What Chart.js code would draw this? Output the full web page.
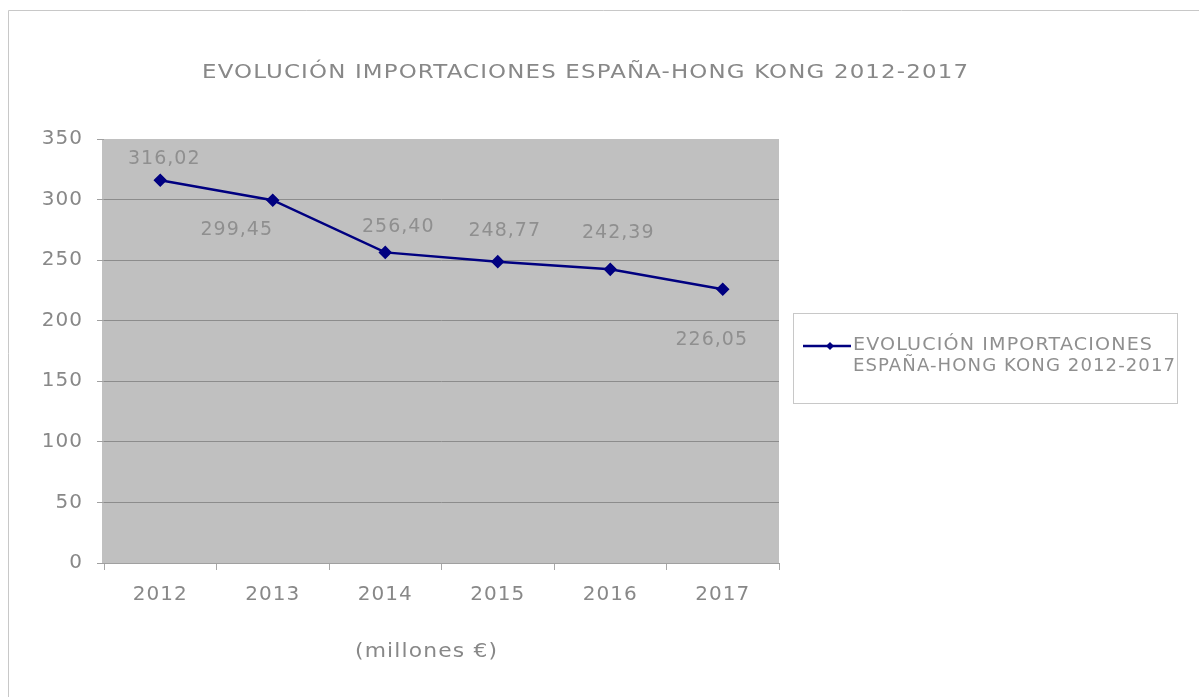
<!DOCTYPE html>
<html>
<head>
<meta charset="utf-8">
<script src="https://cdn.jsdelivr.net/npm/chart.js@4"></script>
<style>
  html, body { margin: 0; padding: 0; background: #fff; }
  #wrap { width: 1199px; height: 697px; }
</style>
</head>
<body>
<div id="wrap"><canvas id="importChart" width="1199" height="697"></canvas></div>
<script>
// data
const years = ['2012', '2013', '2014', '2015', '2016', '2017'];
const imports = [316.02, 299.45, 256.40, 248.77, 242.39, 226.05];
const importLabels = ['316,02', '299,45', '256,40', '248,77', '242,39', '226,05'];
const yTicks = [0, 50, 100, 150, 200, 250, 300, 350];
const titleText = 'EVOLUCIÓN IMPORTACIONES ESPAÑA-HONG KONG 2012-2017';
const legendLines = ['EVOLUCIÓN IMPORTACIONES', 'ESPAÑA-HONG KONG 2012-2017'];
const axisTitle = '(millones €)';

const FONT = "'DejaVu Sans', sans-serif";
const GREY_TEXT = '#888888';
const LINE_COLOR = '#000080';
const GRID = '#8c8c8c';

// text squeezed/stretched horizontally so it spans a given width (the original font is wider)
function stretchText(ctx, text, x, y, width, align) {
  ctx.letterSpacing = '1px';
  const w = ctx.measureText(text).width - 1;
  const k = width / w;
  const sx = align === 'center' ? x - width / 2 : x;
  ctx.save();
  ctx.translate(sx, y);
  ctx.scale(k, 1);
  ctx.textAlign = 'left';
  ctx.fillText(text, 0, 0);
  ctx.restore();
}

const decorPlugin = {
  id: 'decor',
  beforeDraw(chart) {
    const { ctx, chartArea: a } = chart;
    ctx.save();
    ctx.fillStyle = '#fff';
    ctx.fillRect(0, 0, chart.width, chart.height);
    // outer frame (only left and top edges are in view)
    ctx.strokeStyle = '#c8c8c8';
    ctx.lineWidth = 1;
    ctx.beginPath();
    ctx.moveTo(8.5, chart.height);
    ctx.lineTo(8.5, 10.5);
    ctx.lineTo(chart.width, 10.5);
    ctx.stroke();
    // plot background
    ctx.fillStyle = '#c0c0c0';
    ctx.fillRect(a.left - 2, a.top, a.right - a.left + 2, a.bottom - a.top);
    ctx.restore();
    ctx.letterSpacing = '1px';
  },
  afterDatasetsDraw(chart, args, opts) {
    const { ctx } = chart;
    const meta = chart.getDatasetMeta(0);
    ctx.save();
    ctx.font = '19px ' + FONT;
    ctx.fillStyle = '#8f8f8f';
    ctx.textBaseline = 'middle';
    ctx.textAlign = 'center';
    ctx.letterSpacing = '1px';
    meta.data.forEach((pt, i) => {
      const off = opts.labelOffsets[i];
      ctx.fillText(importLabels[i], pt.x + off[0], pt.y + off[1]);
    });
    ctx.restore();
  },
  afterDraw(chart, args, opts) {
    const { ctx } = chart;
    ctx.save();
    ctx.textBaseline = 'middle';
    // title
    ctx.font = '20px ' + FONT;
    ctx.fillStyle = GREY_TEXT;
    stretchText(ctx, titleText, opts.titleX, opts.titleY, opts.titleWidth, 'center');

    // axis caption under the years
    ctx.font = '19px ' + FONT;
    stretchText(ctx, axisTitle, opts.captionX, opts.captionY, opts.captionWidth, 'center');

    // legend box
    const b = opts.legendBox;
    ctx.strokeStyle = '#c8c8c8';
    ctx.lineWidth = 1;
    ctx.strokeRect(b.x + 0.5, b.y + 0.5, b.w, b.h);
    const ly = b.y + 33;
    ctx.strokeStyle = LINE_COLOR;
    ctx.lineWidth = 2.5;
    ctx.beginPath();
    ctx.moveTo(b.x + 10, ly);
    ctx.lineTo(b.x + 58, ly);
    ctx.stroke();
    ctx.fillStyle = LINE_COLOR;
    const mx = b.x + 37, r = 4;
    ctx.beginPath();
    ctx.moveTo(mx, ly - r);
    ctx.lineTo(mx + r, ly);
    ctx.lineTo(mx, ly + r);
    ctx.lineTo(mx - r, ly);
    ctx.closePath();
    ctx.fill();
    ctx.font = '17px ' + FONT;
    ctx.fillStyle = '#8f8f8f';
    stretchText(ctx, legendLines[0], b.x + 60, ly, 299, 'left');
    stretchText(ctx, legendLines[1], b.x + 60, ly + 21, 322, 'left');
    ctx.restore();
  }
};

new Chart(document.getElementById('importChart'), {
  type: 'line',
  data: {
    labels: years,
    datasets: [{
      label: legendLines.join(' '),
      data: imports,
      borderColor: LINE_COLOR,
      backgroundColor: LINE_COLOR,
      borderWidth: 2.5,
      pointStyle: 'rectRot',
      pointRadius: 5,
      pointBackgroundColor: LINE_COLOR,
      pointBorderColor: LINE_COLOR,
      tension: 0,
      fill: false
    }]
  },
  options: {
    responsive: false,
    animation: false,
    layout: { padding: { top: 139, right: 420, left: 0, bottom: 0 } },
    plugins: {
      legend: { display: false },
      title: { display: false },
      tooltip: { enabled: false },
      decor: {
        titleX: 585,
        titleY: 73,
        titleWidth: 766,
        captionX: 426,
        captionY: 652,
        captionWidth: 142,
        legendBox: { x: 793, y: 313, w: 384, h: 90 },
        labelOffsets: [[4, -21], [-36, 30], [13, -25], [7, -31], [8, -36], [-11, 51]]
      }
    },
    scales: {
      x: {
        offset: true,
        afterFit(s) { s.height = 134; },
        grid: {
          offset: true,
          drawOnChartArea: false,
          drawTicks: true,
          tickLength: 7,
          color: '#a8a8a8'
        },
        border: { color: '#a0a0a0' },
        ticks: {
          color: GREY_TEXT,
          padding: 13,
          font: { family: FONT, size: 20 }
        }
      },
      y: {
        min: yTicks[0],
        max: yTicks[yTicks.length - 1],
        afterFit(s) { s.width = 104; },
        afterBuildTicks(s) { s.ticks = yTicks.map(v => ({ value: v })); },
        grid: {
          color: ctx => (ctx.tick && ctx.tick.value === yTicks[yTicks.length - 1]) ? 'rgba(0,0,0,0)' : GRID,
          tickColor: '#a0a0a0',
          tickLength: 7,
          drawTicks: true
        },
        border: { display: false },
        ticks: {
          color: GREY_TEXT,
          padding: 14,
          font: { family: FONT, size: 20 }
        }
      }
    }
  },
  plugins: [decorPlugin]
});
</script>
</body>
</html>
